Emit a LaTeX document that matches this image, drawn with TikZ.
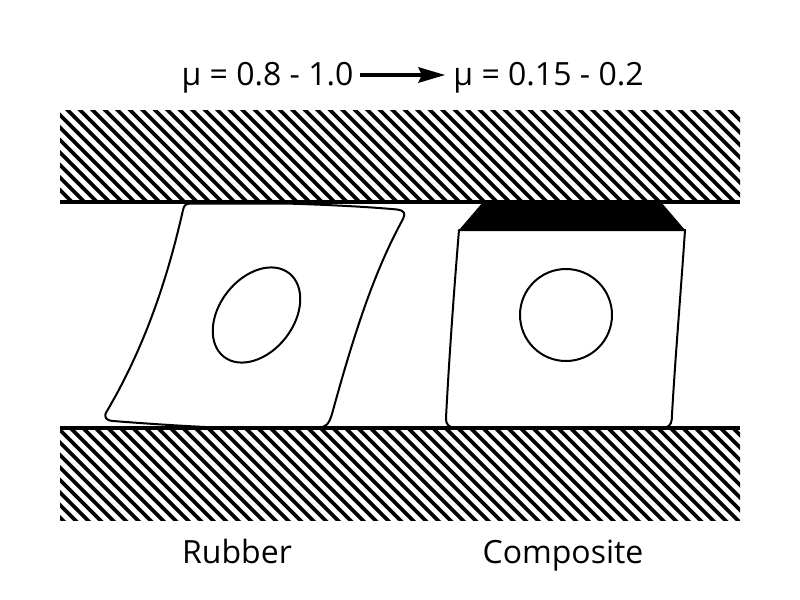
\documentclass[tikz,border=0pt]{standalone}
\usepackage{fontspec}
\setmainfont{Open Sans}
\usetikzlibrary{arrows.meta}
\tikzset{
  outline/.style={line width=1.5pt, black, line join=round},
  plate/.style={line width=2.8pt, black},
  plateedge/.style={line width=2.3pt, black},
  lbl/.style={inner sep=0pt, font=\fontsize{24pt}{28pt}\selectfont, anchor=base},
  flow/.style={line width=2.6pt, -{Stealth[length=20pt,width=11.5pt,inset=2.5pt]}}
}
\begin{document}
\begin{tikzpicture}[x=0.75pt,y=-0.75pt]
\useasboundingbox (0,0) rectangle (800,600);
\fill[white] (0,0) rectangle (800,600);
% top plate
\begin{scope}
\clip (60,110) rectangle (740,202);
\foreach \k in {0,...,80}{
  \draw[plate] ({-155+12.5*\k},100) -- ({-35+12.5*\k},220);
}
\end{scope}
\draw[plateedge] (60,202) -- (740,202);
% bottom plate
\begin{scope}
\clip (60,428) rectangle (740,520);
\foreach \k in {0,...,80}{
  \draw[plate] ({-152+12.5*\k},418) -- ({-32+12.5*\k},538);
}
\end{scope}
\draw[plateedge] (60,428) -- (740,428);
% rubber pad
\draw[outline] (191,203.5)
  -- (285,203.5)
  .. controls (320,204.5) and (365,206.5) .. (397,209.5)
  .. controls (404,210.5) and (406,213) .. (403,219)
  .. controls (375,270) and (355,330) .. (332,414)
  .. controls (329,424) and (326,427.5) .. (318,427.5)
  -- (205,427)
  .. controls (175,425.5) and (145,423.5) .. (113,421)
  .. controls (106,420.5) and (103,417) .. (107,411)
  .. controls (140,355) and (165,290) .. (183,210)
  .. controls (184,205) and (186,203.5) .. (191,203.5) -- cycle;
\draw[outline] (256.5,315) ellipse [x radius=37, y radius=53, rotate=-38];
% composite pad
\fill[black] (483,202) -- (661,202) -- (685,230) -- (459,230) -- cycle;
\draw[outline] (459,230) -- (685,230)
  .. controls (681,290) and (675,360) .. (671.7,420)
  .. controls (671,425) and (668,427.5) .. (664,427.5)
  -- (454,427.5)
  .. controls (449,427.5) and (445.5,424) .. (446,418)
  .. controls (449,360) and (454,290) .. (459,230) -- cycle;
\draw[outline] (566,315) ellipse [x radius=46, y radius=46];
% labels
\node[lbl] (mu1) at (267.5,85) {μ = 0.8 - 1.0};
\node[lbl] (mu2) at (548.5,85) {μ = 0.15 - 0.2};
\draw[flow] ([xshift=4.5pt]mu1.east |- 0,75) -- ([xshift=-6pt]mu2.west |- 0,75);
\node[lbl] (rubber) at (237,563) {Rubber};
\node[lbl] (composite) at (563,563) {Composite};
\end{tikzpicture}
\end{document}
